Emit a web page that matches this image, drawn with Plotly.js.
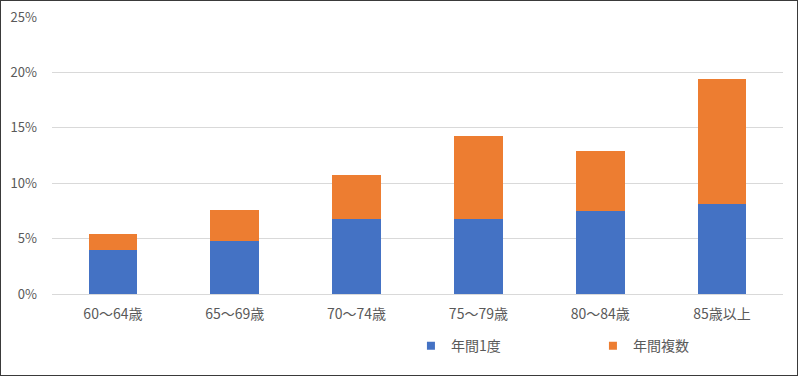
<!DOCTYPE html>
<html>
<head>
<meta charset="utf-8">
<script src="https://cdn.plot.ly/plotly-3.0.1.min.js"></script>
<style>
html,body{margin:0;padding:0;background:#fff;}
#wrap{position:absolute;left:0;top:0;width:796px;height:374px;border:1px solid #3a3a3a;}
#chart{width:796px;height:374px;}
</style>
</head>
<body>
<div id="wrap"><div id="chart"></div></div>
<script>
const categories = ["60〜64歳", "65〜69歳", "70〜74歳", "75〜79歳", "80〜84歳", "85歳以上"];
const seriesNames = ["年間1度", "年間複数"];
const onceValues = [4.0, 4.8, 6.8, 6.8, 7.5, 8.1];
const multipleValues = [1.4, 2.8, 3.9, 7.5, 5.4, 11.3];
const yTickVals = [0, 5, 10, 15, 20, 25];
const yTickText = ["0%", "5%", "10%", "15%", "20%", "25%"];
const colors = ["#4472C4", "#ED7D31"];

const font = "'Noto Sans CJK JP', 'Noto Sans', sans-serif";

const traces = [
  {type: "bar", name: seriesNames[0], x: categories, y: onceValues, marker: {color: colors[0]}, showlegend: false, hoverinfo: "none"},
  {type: "bar", name: seriesNames[1], x: categories, y: multipleValues, marker: {color: colors[1]}, showlegend: false, hoverinfo: "none"},
  {type: "scatter", mode: "markers", name: seriesNames[0], x: [null], y: [null], marker: {symbol: "square", size: 8, color: colors[0]}},
  {type: "scatter", mode: "markers", name: seriesNames[1], x: [null], y: [null], marker: {symbol: "square", size: 8, color: colors[1]}}
];

const layout = {
  width: 796, height: 374,
  margin: {l: 51, r: 14, t: 16, b: 81},
  paper_bgcolor: "#fff", plot_bgcolor: "#fff",
  barmode: "stack",
  bargap: 0.6,
  font: {family: font, color: "#595959", size: 13},
  xaxis: {
    type: "category",
    showgrid: false, showline: false, zeroline: false,
    tickfont: {size: 14, color: "#595959"},
    ticks: "", ticklabelstandoff: 10
  },
  yaxis: {
    range: [0, 25], tickvals: yTickVals, ticktext: yTickText,
    showgrid: true, gridcolor: "#d9d9d9", gridwidth: 1,
    zeroline: true, zerolinecolor: "#d9d9d9", zerolinewidth: 1,
    showline: false, ticks: "", ticklabelstandoff: 14,
    tickfont: {size: 13, color: "#595959"}
  },
  showlegend: true,
  legend: {
    orientation: "h", traceorder: "normal", xref: "container", yref: "container",
    x: 0.515, xanchor: "left", y: 0.077, yanchor: "middle",
    entrywidth: 137, entrywidthmode: "pixels",
    font: {size: 14, color: "#595959"}, bgcolor: "rgba(0,0,0,0)"
  }
};

Plotly.newPlot("chart", traces, layout, {displayModeBar: false, staticPlot: true});
</script>
</body>
</html>
